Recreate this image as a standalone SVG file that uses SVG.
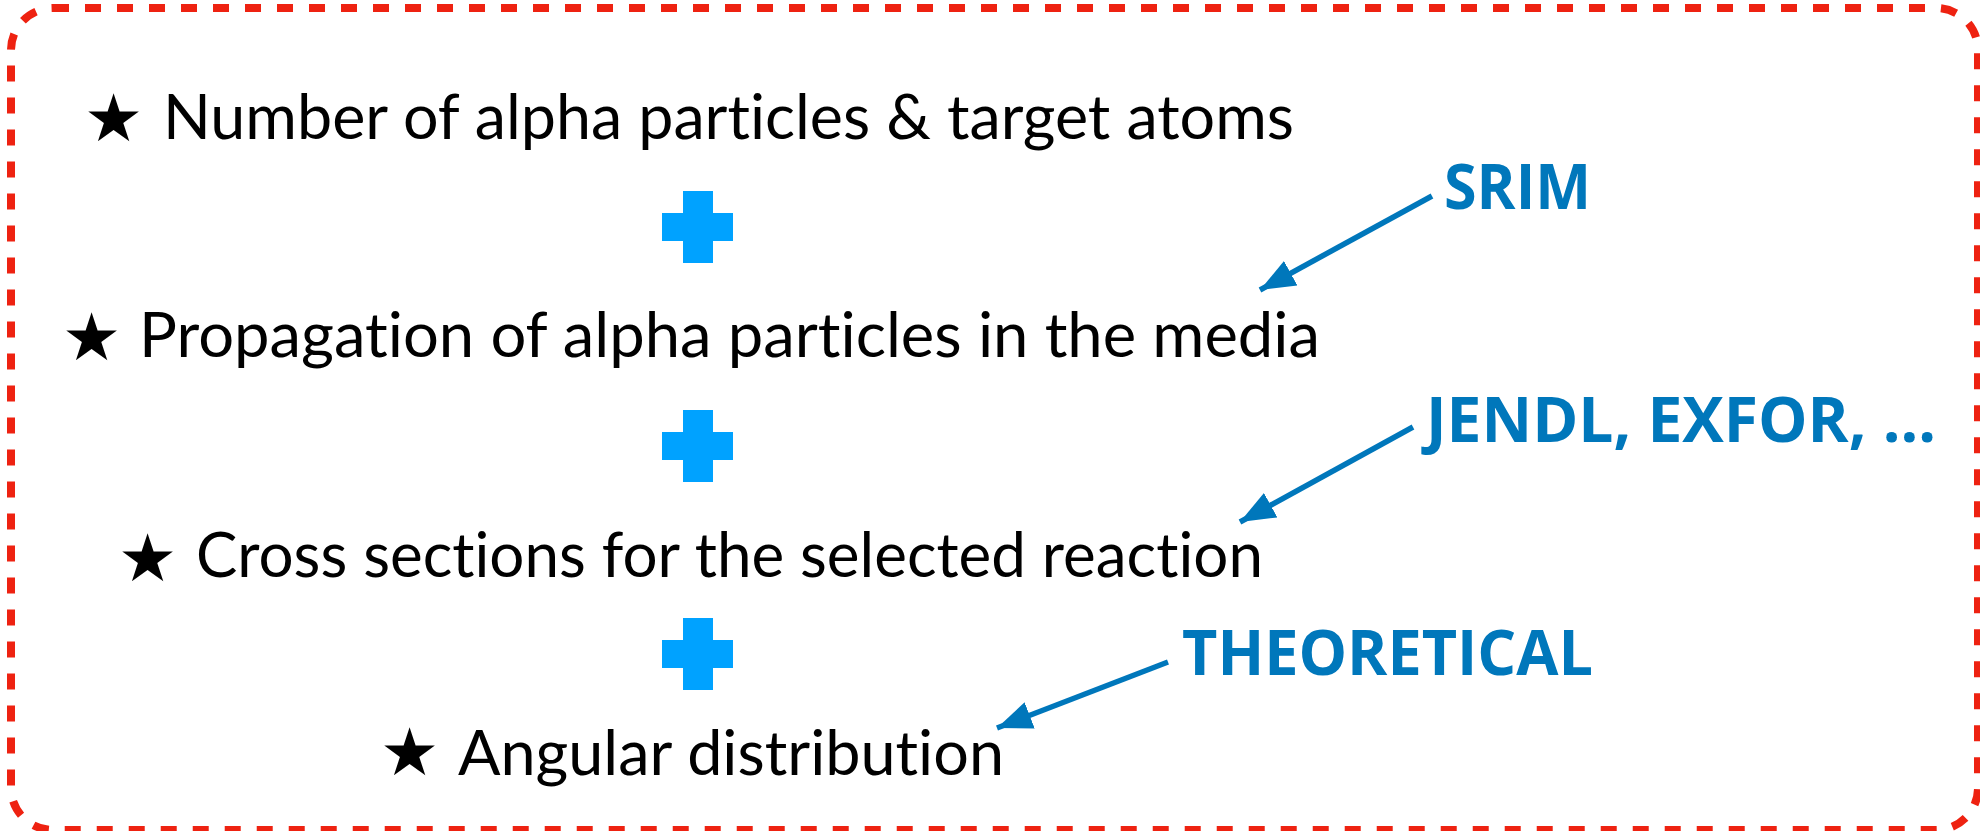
<svg xmlns="http://www.w3.org/2000/svg" width="1980" height="831" viewBox="0 0 1980 831">
<style>
.item{font-family:Lato,"Open Sans","Liberation Sans",sans-serif;font-size:62px;fill:#000;font-variant-ligatures:none;font-feature-settings:"liga" 0}
.star{font-family:"DejaVu Sans",sans-serif;font-size:66px;fill:#000}
.src{font-family:"Open Sans","Liberation Sans",sans-serif;font-weight:bold;font-size:62px;fill:#0077BB}
.plus{fill:#00A2FF}
.conn{stroke:#0077BB;stroke-width:5.5;fill:none}
</style>
<defs>
<marker id="ah" markerUnits="userSpaceOnUse" markerWidth="38" markerHeight="32" refX="35" refY="16" orient="auto">
<path d="M0,2 L35,16 L0,30 Z" fill="#0077BB"/>
</marker>
</defs>
<rect id="frame" x="11" y="8" width="1967" height="822" rx="42" ry="42" fill="none" stroke="#EE2211" stroke-width="8" stroke-dasharray="16 16"/>
<g id="item1"><text class="star" x="84" y="141">★</text><text class="item" x="163" y="139" textLength="1131" lengthAdjust="spacingAndGlyphs">Number of alpha particles &amp; target atoms</text></g>
<g id="plus1"><rect class="plus" x="683" y="191" width="30" height="72"/><rect class="plus" x="662" y="213" width="71" height="28"/></g>
<g id="item2"><text class="star" x="62" y="360">★</text><text class="item" x="139" y="357" textLength="1181" lengthAdjust="spacingAndGlyphs">Propagation of alpha particles in the media</text></g>
<g id="plus2"><rect class="plus" x="683" y="410" width="30" height="72"/><rect class="plus" x="662" y="432" width="71" height="28"/></g>
<g id="item3"><text class="star" x="118" y="581">★</text><text class="item" x="196" y="577" textLength="1067" lengthAdjust="spacingAndGlyphs">Cross sections for the selected reaction</text></g>
<g id="plus3"><rect class="plus" x="683" y="618" width="30" height="72"/><rect class="plus" x="662" y="640" width="71" height="28"/></g>
<g id="item4"><text class="star" x="380" y="775">★</text><text class="item" x="458" y="775" textLength="546" lengthAdjust="spacingAndGlyphs">Angular distribution</text></g>
<g id="srim"><text class="src" x="1444" y="209" textLength="147" lengthAdjust="spacingAndGlyphs">SRIM</text></g>
<g id="jendl"><text class="src" x="1426" y="442" textLength="510" lengthAdjust="spacingAndGlyphs">JENDL, EXFOR, ...</text></g>
<g id="theo"><text class="src" x="1182" y="675" textLength="411" lengthAdjust="spacingAndGlyphs">THEORETICAL</text></g>
<g id="connectors">
<line class="conn" x1="1432" y1="196" x2="1260" y2="290" marker-end="url(#ah)"/>
<line class="conn" x1="1413" y1="427" x2="1240" y2="522" marker-end="url(#ah)"/>
<line class="conn" x1="1168" y1="662" x2="997" y2="728" marker-end="url(#ah)"/>
</g>
</svg>
